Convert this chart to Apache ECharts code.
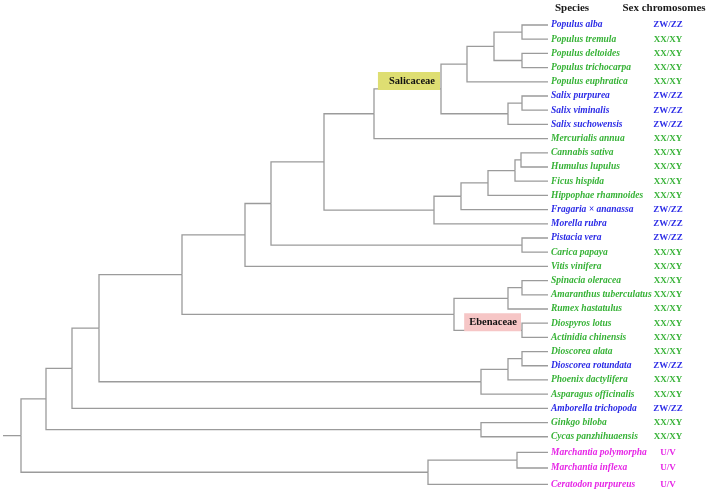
<!DOCTYPE html>
<html><head><meta charset="utf-8">
<script src="https://cdn.jsdelivr.net/npm/echarts@6/dist/echarts.min.js"></script>
<style>html,body{margin:0;padding:0;background:#fff}#c{width:708px;height:493px}</style>
</head><body><div id="c"></div>
<script>
// ---------- data ----------
const species = [
  'Populus alba','Populus tremula','Populus deltoides','Populus trichocarpa','Populus euphratica',
  'Salix purpurea','Salix viminalis','Salix suchowensis','Mercurialis annua',
  'Cannabis sativa','Humulus lupulus','Ficus hispida','Hippophae rhamnoides',
  'Fragaria × ananassa','Morella rubra','Pistacia vera','Carica papaya','Vitis vinifera',
  'Spinacia oleracea','Amaranthus tuberculatus','Rumex hastatulus','Diospyros lotus','Actinidia chinensis',
  'Dioscorea alata','Dioscorea rotundata','Phoenix dactylifera','Asparagus officinalis',
  'Amborella trichopoda','Ginkgo biloba','Cycas panzhihuaensis',
  'Marchantia polymorpha','Marchantia inflexa','Ceratodon purpureus'
];
const sexChromosomes = [
  'ZW/ZZ','XX/XY','XX/XY','XX/XY','XX/XY',
  'ZW/ZZ','ZW/ZZ','ZW/ZZ','XX/XY',
  'XX/XY','XX/XY','XX/XY','XX/XY',
  'ZW/ZZ','ZW/ZZ','ZW/ZZ','XX/XY','XX/XY',
  'XX/XY','XX/XY','XX/XY','XX/XY','XX/XY',
  'XX/XY','ZW/ZZ','XX/XY','XX/XY',
  'ZW/ZZ','XX/XY','XX/XY',
  'U/V','U/V','U/V'
];
// row position of each leaf (bryophytes slightly more spread)
const leafRows = [0,1,2,3,4,5,6,7,8,9,10,11,12,13,14,15,16,17,18,19,20,21,22,23,24,25,26,27,28,29,30.1,31.2,32.35];
// depth of all tips and of internal nodes (Newick: leaf index, node depth after ')')
const leafDepth = 527;
const treeNewick = "(((((((((((((0,1)501,(2,3)501)473,4)446,((5,6)501,7)487)420,8)353,(((((9,10)500,11)494,12)467,13)440,14)413)303,(15,16)501)250,17)224,(((18,19)501,20)487,(21,22)501)433)161,(((23,24)501,25)487,26)460)78,27)51,(28,29)460)25,((30,31)496,32)407)0";
const cladeNames = ['Salicaceae','Ebenaceae'];
const cladeFirstLeaf = [0, 21];
const cladeLastLeaf = [7, 22];
const headers = ['Species','Sex chromosomes'];

// ---------- styles ----------
const systemColor = {'ZW/ZZ':'#2b2be6','XX/XY':'#36b236','U/V':'#e626e6'};
const cladeStyle = {
  'Salicaceae':{bg:'#dede72', padding:[4,5,3,11]},
  'Ebenaceae':{bg:'#f6c6c6', padding:[4,4,3,5]}
};
const lineColor = '#9b9b9b';

// ---------- parse tree ----------
let pos = 0;
function readNum(){ let s=''; while(pos<treeNewick.length && /[0-9.]/.test(treeNewick[pos])) s+=treeNewick[pos++]; return parseFloat(s); }
function parse(){
  if (treeNewick[pos] === '('){
    pos++;
    const children=[parse()];
    while(treeNewick[pos]===','){pos++; children.push(parse());}
    pos++; // ')'
    const d=readNum();
    const node={children, x:d};
    node.y=(children[0].y+children[children.length-1].y)/2;
    node.first=children[0].first; node.last=children[children.length-1].last;
    children.forEach(c=>c.parent=node);
    return node;
  }
  const idx=readNum();
  return {leaf:idx, x:leafDepth, y:leafRows[idx], first:idx, last:idx};
}
const root = parse();
const edges=[]; const allNodes=[];
(function walk(n){ allNodes.push(n); if(n.parent) edges.push([n.x,n.y,n.parent.x,n.parent.y]); (n.children||[]).forEach(walk); })(root);
edges.push([root.x, root.y, root.x-18, root.y]); // root stub

const cladeData = cladeNames.map((nm,i)=>{
  const n = allNodes.find(k=>k.children && k.first===cladeFirstLeaf[i] && k.last===cladeLastLeaf[i]);
  return [n.x, n.y, i];
});
const labelData = species.map((s,i)=>[leafDepth, leafRows[i], i]);

const chart = echarts.init(document.getElementById('c'), null, {renderer:'canvas'});
chart.setOption({
  animation:false,
  backgroundColor:'#fff',
  grid:{left:0,right:0,top:0,bottom:0},
  xAxis:{type:'value',min:-21,max:687,show:false},
  yAxis:{type:'value',inverse:true,min:-1.76,max:32.96,show:false},
  graphic:[
    {type:'text', x:572, y:8, style:{text:headers[0], font:'bold 11px "Liberation Serif"', fill:'#1a1a1a', align:'center', verticalAlign:'middle'}},
    {type:'text', x:664, y:8, style:{text:headers[1], font:'bold 11px "Liberation Serif"', fill:'#1a1a1a', align:'center', verticalAlign:'middle'}}
  ],
  series:[
    {type:'custom', data:edges, silent:true,
     renderItem:(p,api)=>{
       const cx=api.value(0),cy=api.value(1),px=api.value(2),py=api.value(3);
       const a=api.coord([px,py]),b=api.coord([px,cy]),c=api.coord([cx,cy]);
       return {type:'polyline', shape:{points:[a,b,c]}, style:{stroke:lineColor,lineWidth:1.3,fill:null}};
     }},
    {type:'custom', data:labelData, silent:true,
     renderItem:(p,api)=>{
       const i=api.value(2); const pt=api.coord([api.value(0),api.value(1)]);
       const sys=sexChromosomes[i]; const col=systemColor[sys];
       return {type:'group', children:[
         {type:'text', x:pt[0]+3, y:pt[1], style:{text:species[i], fill:col, font:'italic bold 9.5px "Liberation Serif"', align:'left', verticalAlign:'middle'}},
         {type:'text', x:668, y:pt[1], style:{text:sys, fill:col, font:'bold 9px "Liberation Serif"', align:'center', verticalAlign:'middle'}}
       ]};
     }},
    {type:'custom', data:cladeData, silent:true, z:5,
     renderItem:(p,api)=>{
       const i=api.value(2); const pt=api.coord([api.value(0),api.value(1)]);
       const nm=cladeNames[i]; const st=cladeStyle[nm];
       return {type:'text', x:pt[0]-1, y:pt[1]+1, style:{text:nm, fill:'#111', font:'bold 10.5px "Liberation Serif"',
         align:'right', verticalAlign:'bottom', backgroundColor:st.bg, padding:st.padding}};
     }}
  ]
});
</script></body></html>
